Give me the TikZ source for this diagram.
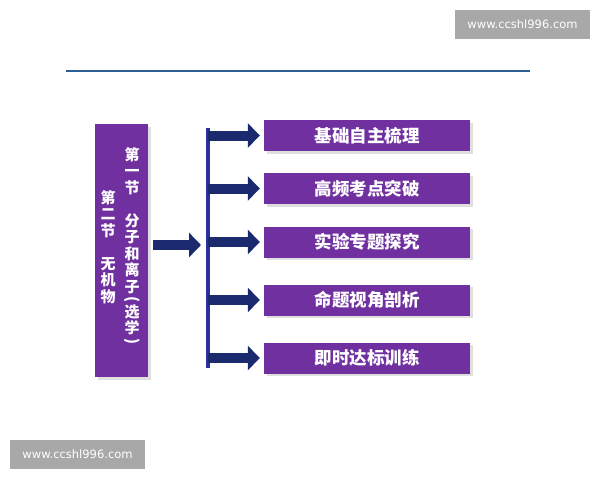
\documentclass[tikz,border=0pt]{standalone}
\usepackage{fontspec}
\usepackage{graphicx}
\newfontfamily\cjk{Noto Sans CJK SC}
\newfontfamily\wmfont{DejaVu Sans}
\usetikzlibrary{arrows.meta,shadows}
\definecolor{boxpurple}{HTML}{7030A0}
\definecolor{arrnavy}{HTML}{1B2A6E}
\definecolor{barblue}{HTML}{2A2F9E}
\definecolor{topline}{HTML}{2B5E93}
\definecolor{wmgray}{HTML}{A8A8A8}
\begin{document}
\begin{tikzpicture}[x=1pt,y=-1pt,
  pbox/.style={fill=boxpurple, draw=none, drop shadow={shadow xshift=2.5pt, shadow yshift=-2.5pt, opacity=0.25}},
  itembox/.style={pbox, minimum width=206pt, minimum height=31pt, inner sep=0pt, text=white, font=\cjk\bfseries\fontsize{17.5}{19}\selectfont},
  arr/.style={draw=arrnavy, line width=10pt, -{Triangle[width=24pt,length=12pt]}},
  vcol/.style={align=center, text=white, inner sep=0pt, font=\cjk\bfseries\fontsize{15}{16.5}\selectfont},
  wm/.style={fill=wmgray, text=white, minimum width=135pt, minimum height=29pt, inner sep=0pt, font=\wmfont\fontsize{11.5}{13}\selectfont}
]
\useasboundingbox (0,0) rectangle (600,480);
\fill[white] (0,0) rectangle (600,480);
% watermarks
\node[wm] (wmtop) at (522.5,24.5) {www.ccshl996.com};
\node[wm] (wmbot) at (77.5,454.5) {www.ccshl996.com};
% top line
\coordinate (tl1) at (66,71);
\coordinate (tl2) at (530,71);
\draw[topline, line width=2.5pt] (tl1) -- (tl2);
% left box
\node[pbox, minimum width=53pt, minimum height=253pt, inner sep=0pt] (lb) at (121.5,250.5) {};
\node[vcol, anchor=north] (colr) at (132,147) {第\\一\\节\\[16.5pt]分\\子\\和\\离\\子\\[-4pt]\rotatebox[origin=c]{-90}{(}\\[-4pt]选\\学\\[-4pt]\rotatebox[origin=c]{-90}{)}};
\node[vcol, anchor=north] (coll) at (108,190) {第\\二\\节\\[16.5pt]无\\机\\物};
% bar
\node[fill=barblue, minimum width=4pt, minimum height=240pt, inner sep=0pt] (bar) at (208,248) {};
% item boxes
\node[itembox] (b1) at (367,135.5) {基础自主梳理};
\node[itembox] (b2) at (367,188.5) {高频考点突破};
\node[itembox] (b3) at (367,242) {实验专题探究};
\node[itembox] (b4) at (367,300) {命题视角剖析};
\node[itembox] (b5) at (367,358) {即时达标训练};
% big arrow
\coordinate (ba1) at (153,245);
\coordinate (ba2) at (201,245);
\draw[arr] (ba1) -- (ba2);
% small arrows
\foreach \b in {b1,b2,b3,b4,b5}{
  \draw[arr] (bar.center |- \b.west) -- ([xshift=-4pt]\b.west);
}
\end{tikzpicture}
\end{document}
